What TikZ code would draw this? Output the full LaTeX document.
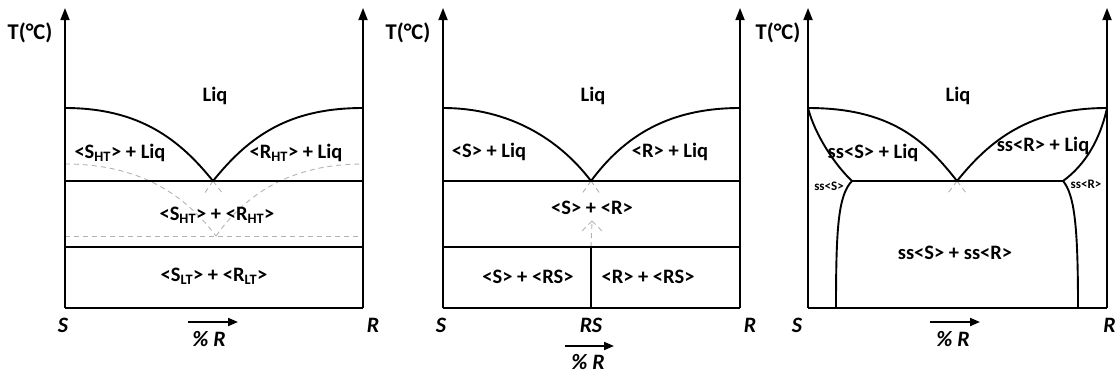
\documentclass[tikz,border=0pt]{standalone}
\usepackage{fontspec}
\setmainfont{Carlito}
\usetikzlibrary{arrows.meta}
\begin{document}
\begin{tikzpicture}[x=1pt,y=-1pt,
  curve/.style={line width=1.9pt},
  axis/.style={line width=1.7pt,-{Triangle[length=12pt,width=9pt]}},
  frame/.style={line width=1.9pt},
  meta/.style={gray!60,dashed,line width=0.9pt,dash pattern=on 5pt off 4pt},
  lab/.style={font=\fontsize{20.5}{22}\selectfont\bfseries,inner sep=0pt},
  small/.style={font=\fontsize{13}{14}\selectfont\bfseries,inner sep=0pt},
  tlab/.style={font=\fontsize{22.5}{24}\selectfont\bfseries,inner sep=0pt},
  comp/.style={font=\fontsize{22}{24}\selectfont\bfseries\itshape,inner sep=0pt},
  pr/.style={line width=1.9pt,-{Triangle[length=10pt,width=8pt]}}]
\useasboundingbox (0,0) rectangle (1116,373);
% ---------- Panel 1 ----------
\coordinate (a1b) at (65,308); \coordinate (a1t) at (65,8);
\coordinate (b1b) at (363,308); \coordinate (b1t) at (363,8);
\coordinate (a1l) at (65,108); \coordinate (b1l) at (363,108);
\coordinate (e1) at (213,181);
\coordinate (a1e) at (65,181); \coordinate (b1e) at (363,181);
\coordinate (a1s) at (65,247); \coordinate (b1s) at (363,247);
\coordinate (a1m) at (65,164); \coordinate (b1m) at (363,164);
\coordinate (m1) at (216,236);
\coordinate (a1d) at (65,236); \coordinate (b1d) at (363,236);
\draw[meta] (a1m) .. controls (140,164) and (185,195) .. (m1);
\draw[meta] (m1) .. controls (245,195) and (290,164) .. (b1m);
\draw[meta] (a1d) -- (b1d);
\draw[meta] (e1) -- (204,194);
\draw[meta] (e1) -- (223,194);
\draw[axis] (a1b) -- (a1t);
\draw[axis] (b1b) -- (b1t);
\draw[frame] (a1b) -- (b1b);
\draw[frame] (a1e) -- (b1e);
\draw[frame] (a1s) -- (b1s);
\draw[curve] (a1l) .. controls (140,108) and (180,140) .. (e1);
\draw[curve] (e1) .. controls (250,135) and (290,108) .. (b1l);
\node[tlab] (t1) at (30,33) {T(°C)};
\node[lab] (liq1) at (215,96) {Liq};
\node[lab] (sl1) at (120,153) {<S\textsubscript{HT}> + Liq};
\node[lab] (rl1) at (296,153) {<R\textsubscript{HT}> + Liq};
\node[lab] (sr1) at (217,215) {<S\textsubscript{HT}> + <R\textsubscript{HT}>};
\node[lab] (srl1) at (214,276) {<S\textsubscript{LT}> + <R\textsubscript{LT}>};
\node[comp] (s1) at (63,325) {S};
\node[comp] (r1) at (373,325) {R};
\coordinate (p1a) at (188,322); \coordinate (p1b) at (238,322);
\draw[pr] (p1a) -- (p1b);
\node[comp] (pc1) at (209,339) {\% R};
% ---------- Panel 2 ----------
\coordinate (a2b) at (443,308); \coordinate (a2t) at (443,8);
\coordinate (b2b) at (740,308); \coordinate (b2t) at (740,8);
\coordinate (a2l) at (443,108); \coordinate (b2l) at (740,108);
\coordinate (e2) at (591,181);
\coordinate (a2e) at (443,181); \coordinate (b2e) at (740,181);
\coordinate (a2s) at (443,247); \coordinate (b2s) at (740,247);
\coordinate (c2s) at (591,247); \coordinate (c2b) at (591,308);
\coordinate (m2) at (592,221);
\draw[meta] (e2) -- (581,195);
\draw[meta] (e2) -- (601,195);
\draw[meta] (c2s) -- (m2);
\draw[meta] (m2) -- (581,232);
\draw[meta] (m2) -- (603,232);
\draw[axis] (a2b) -- (a2t);
\draw[axis] (b2b) -- (b2t);
\draw[frame] (a2b) -- (b2b);
\draw[frame] (a2e) -- (b2e);
\draw[frame] (a2s) -- (b2s);
\draw[frame] (c2s) -- (c2b);
\draw[curve] (a2l) .. controls (510,108) and (560,140) .. (e2);
\draw[curve] (e2) .. controls (625,135) and (670,108) .. (b2l);
\node[tlab] (t2) at (408,33) {T(°C)};
\node[lab] (liq2) at (593,96) {Liq};
\node[lab] (sl2) at (489,152) {<S> + Liq};
\node[lab] (rl2) at (670,152) {<R> + Liq};
\node[lab] (sr2) at (592,208) {<S> + <R>};
\node[lab] (srs2) at (528,277) {<S> + <RS>};
\node[lab] (rrs2) at (648,277) {<R> + <RS>};
\node[comp] (s2) at (441,325) {S};
\node[comp] (rs2) at (591,325) {RS};
\node[comp] (r2) at (750,325) {R};
\coordinate (p2a) at (565,346); \coordinate (p2b) at (614,346);
\draw[pr] (p2a) -- (p2b);
\node[comp] (pc2) at (588,362) {\% R};
% ---------- Panel 3 ----------
\coordinate (a3b) at (808,308); \coordinate (a3t) at (808,8);
\coordinate (b3b) at (1107,308); \coordinate (b3t) at (1107,8);
\coordinate (a3l) at (808,108); \coordinate (b3l) at (1107,108);
\coordinate (e3) at (957,181);
\coordinate (ls3) at (852,181); \coordinate (rs3) at (1063,181);
\coordinate (lb3) at (836,308); \coordinate (rb3) at (1078,308);
\draw[meta] (e3) -- (948,193);
\draw[meta] (e3) -- (966,193);
\draw[axis] (a3b) -- (a3t);
\draw[axis] (b3b) -- (b3t);
\draw[frame] (a3b) -- (b3b);
\draw[frame] (ls3) -- (rs3);
\draw[curve] (a3l) .. controls (890,108) and (925,140) .. (e3);
\draw[curve] (e3) .. controls (990,140) and (1030,108) .. (b3l);
\draw[curve] (a3l) .. controls (815,135) and (835,165) .. (ls3);
\draw[curve] (ls3) .. controls (838,195) and (836,230) .. (lb3);
\draw[curve] (b3l) .. controls (1100,140) and (1085,165) .. (rs3);
\draw[curve] (rs3) .. controls (1075,195) and (1078,230) .. (rb3);
\node[tlab] (t3) at (778,33) {T(°C)};
\node[lab] (liq3) at (958,96) {Liq};
\node[lab] (sl3) at (873,153) {ss<S> + Liq};
\node[lab] (rl3) at (1043,146) {ss<R> + Liq};
\node[small] (ss3) at (829,186) {ss<S>};
\node[small] (sr3) at (1086,184) {ss<R>};
\node[lab] (ssr3) at (955,253) {ss<S> + ss<R>};
\node[comp] (s3) at (797,325) {S};
\node[comp,anchor=east] (r3) at (1116,325) {R};
\coordinate (p3a) at (930,322); \coordinate (p3b) at (980,322);
\draw[pr] (p3a) -- (p3b);
\node[comp] (pc3) at (953,339) {\% R};
\end{tikzpicture}
\end{document}
